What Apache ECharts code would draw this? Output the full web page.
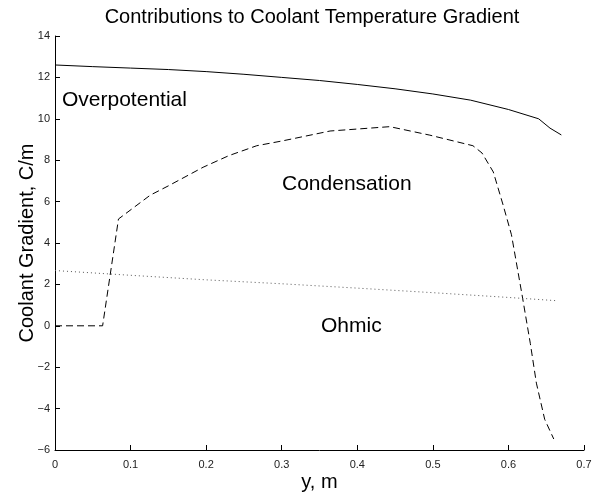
<!DOCTYPE html>
<html>
<head>
<meta charset="utf-8">
<script src="https://cdn.jsdelivr.net/npm/echarts@6/dist/echarts.min.js"></script>
<style>
  html, body { margin: 0; padding: 0; background: #fff; }
  #chart { width: 602px; height: 497px; }
</style>
</head>
<body>
<div id="chart"></div>
<script>
const overX = [0, 0.05, 0.1, 0.15, 0.2, 0.25, 0.3, 0.35, 0.4, 0.45, 0.5, 0.55, 0.6, 0.64, 0.655, 0.67];
const overY = [12.6, 12.52, 12.45, 12.38, 12.28, 12.15, 12.0, 11.85, 11.66, 11.45, 11.2, 10.9, 10.45, 10.0, 9.55, 9.22];

const condX = [0, 0.063, 0.084, 0.126, 0.15, 0.196, 0.23, 0.267, 0.302, 0.364, 0.443, 0.496, 0.553, 0.565, 0.58, 0.593, 0.604, 0.618, 0.629, 0.637, 0.648, 0.66];
const condY = [0, 0, 5.16, 6.31, 6.76, 7.66, 8.22, 8.7, 8.94, 9.41, 9.62, 9.21, 8.7, 8.35, 7.43, 5.83, 4.4, 1.5, -0.86, -2.77, -4.52, -5.47];

const ohmX = [0, 0.1, 0.2, 0.3, 0.4, 0.5, 0.6, 0.665];
const ohmY = [2.67, 2.44, 2.22, 2.03, 1.82, 1.6, 1.37, 1.21];

const xTicks = { min: 0, max: 0.7, step: 0.1 };
const yTicks = { min: -6, max: 14, step: 2 };

const pairs = (xs, ys) => xs.map((x, i) => [x, ys[i]]);
const font = 'Liberation Sans, Arial, Helvetica, sans-serif';

const myChart = echarts.init(document.getElementById('chart'));

const axisCommon = {
    axisLine: { show: true, onZero: false, lineStyle: { color: '#000', width: 1 } },
    axisTick: { show: true, inside: true, length: 5, lineStyle: { color: '#000' } },
    splitLine: { show: false },
    axisLabel: { color: '#222', fontSize: 11, fontFamily: font },
    nameLocation: 'middle',
    nameMoveOverlap: false,
    nameTextStyle: { color: '#000', fontSize: 20, fontFamily: font }
};

myChart.setOption({
    animation: false,
    backgroundColor: '#fff',
    title: {
        text: 'Contributions to Coolant Temperature Gradient',
        left: 307,
        textAlign: 'center',
        top: 2,
        textStyle: { color: '#000', fontSize: 20, fontWeight: 'normal', fontFamily: font }
    },
    grid: { left: 55, right: 18, top: 36, bottom: 43 },
    xAxis: Object.assign({}, axisCommon, {
        type: 'value',
        min: xTicks.min, max: xTicks.max, interval: xTicks.step,
        name: 'y, m',
        nameGap: 22,
        axisLabel: Object.assign({}, axisCommon.axisLabel, {
            margin: 9,
            formatter: v => v === 0 ? '0' : v.toFixed(1)
        })
    }),
    yAxis: Object.assign({}, axisCommon, {
        type: 'value',
        min: yTicks.min, max: yTicks.max, interval: yTicks.step,
        name: 'Coolant Gradient, C/m',
        nameGap: 18,
        axisLabel: Object.assign({}, axisCommon.axisLabel, {
            margin: 5,
            formatter: v => String(v).replace('-', '\u2212')
        })
    }),
    series: [
        {
            name: 'Overpotential', type: 'line', showSymbol: false, symbol: 'none',
            data: pairs(overX, overY),
            lineStyle: { color: '#000', width: 1, type: 'solid' }
        },
        {
            name: 'Condensation', type: 'line', showSymbol: false, symbol: 'none',
            data: pairs(condX, condY),
            lineStyle: { color: '#000', width: 1, type: [7, 4] }
        },
        {
            name: 'Ohmic', type: 'line', showSymbol: false, symbol: 'none',
            data: pairs(ohmX, ohmY),
            lineStyle: { color: '#555', width: 1, type: [1, 3] }
        }
    ],
    graphic: [
        { type: 'text', left: 62, top: 90, style: { text: 'Overpotential', fill: '#000', font: '21px ' + font } },
        { type: 'text', left: 282, top: 174, style: { text: 'Condensation', fill: '#000', font: '21px ' + font } },
        { type: 'text', left: 321, top: 316, style: { text: 'Ohmic', fill: '#000', font: '21px ' + font } }
    ]
});

window.onresize = function () {
    myChart.resize();
};
</script>
</body>
</html>
